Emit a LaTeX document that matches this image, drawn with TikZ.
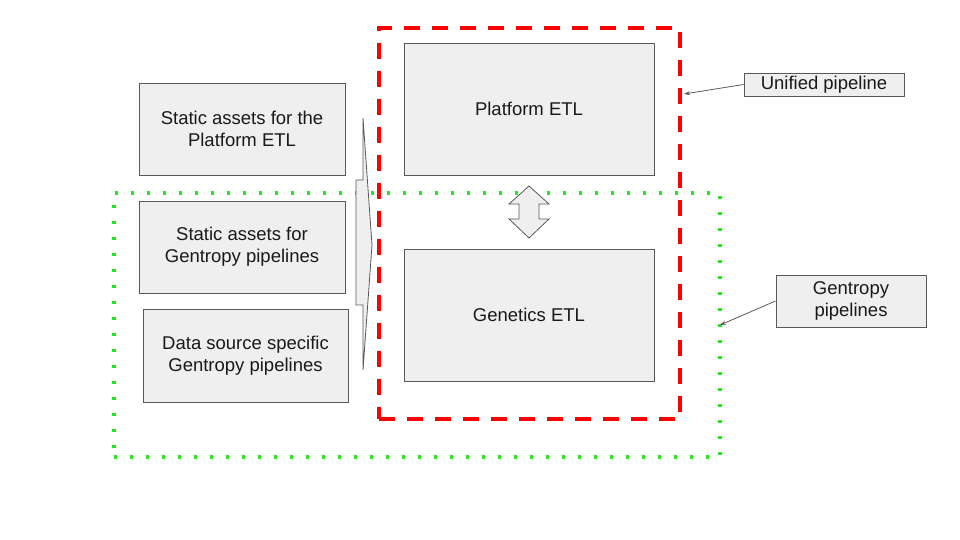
\documentclass[tikz,border=0pt]{standalone}
\usepackage{fontspec}
\setmainfont{Liberation Sans}
\usetikzlibrary{arrows.meta}
\definecolor{boxfill}{HTML}{EFEFEF}
\definecolor{boxline}{HTML}{595959}
\definecolor{redline}{HTML}{FF0000}
\definecolor{greenline}{HTML}{1EE81E}
\tikzset{
  gbox/.style={draw=boxline, fill=boxfill, line width=0.9pt, align=center,
    inner sep=0pt, font=\fontsize{18.5}{22}\selectfont, text=black!90},
  redframe/.style={draw=redline, line width=4pt, dash pattern=on 16pt off 12pt,
    inner sep=0pt},
  greenframe/.style={draw=greenline, line width=3.2pt, dash pattern=on 3.2pt off 12.8pt,
    inner sep=0pt},
  callout/.style={draw=boxline, line width=0.8pt, -{Stealth[length=6pt,width=4pt]}},
  bigarrow/.style={draw=boxline, fill=boxfill, line width=0.8pt, line join=miter}
}
\begin{document}
\begin{tikzpicture}[x=1pt,y=-1pt]
\useasboundingbox (0,0) rectangle (960,540);
% frames
\node[greenframe, minimum width=606pt, minimum height=264pt] (gframe) at (417,325) {};
\node[redframe, minimum width=301pt, minimum height=391pt] (rframe) at (529.5,223.5) {};
% left boxes
\node[gbox, minimum width=206pt, minimum height=92pt] (sa) at (242,129) {Static assets for the\\Platform ETL};
\node[gbox, minimum width=206pt, minimum height=92pt] (sb) at (242,247) {Static assets for\\Gentropy pipelines};
\node[gbox, minimum width=205pt, minimum height=93pt] (sc) at (245.5,355.5) {Data source specific\\Gentropy pipelines};
% ETL boxes
\node[gbox, minimum width=250pt, minimum height=132pt] (pe) at (529,109) {Platform ETL};
\node[gbox, minimum width=250pt, minimum height=132pt] (ge) at (529,315) {Genetics ETL};
% big right arrow (narrow)
\draw[bigarrow] (356,180) -- (363,180) -- (363,118) -- (372,245) -- (363,370) -- (363,305) -- (356,305) -- cycle;
% double arrow between ETLs
\coordinate (dtop) at (pe.south -| 529,186);
\draw[bigarrow] (529,186) -- (549,204) -- (539,204) -- (539,219) -- (549,219) -- (529,238)
  -- (509,219) -- (519,219) -- (519,204) -- (509,204) -- cycle;
% callout labels
\node[gbox, minimum width=160pt, minimum height=23pt] (up) at (824,84.5) {Unified pipeline};
\node[gbox, minimum width=150pt, minimum height=52pt] (gp) at (851,301) {Gentropy\\pipelines};
\coordinate (upend) at (684,94);
\coordinate (gpend) at (720,325);
\draw[callout] (up.west) -- (upend);
\draw[callout] (gp.west) -- (gpend);
\end{tikzpicture}
\end{document}
